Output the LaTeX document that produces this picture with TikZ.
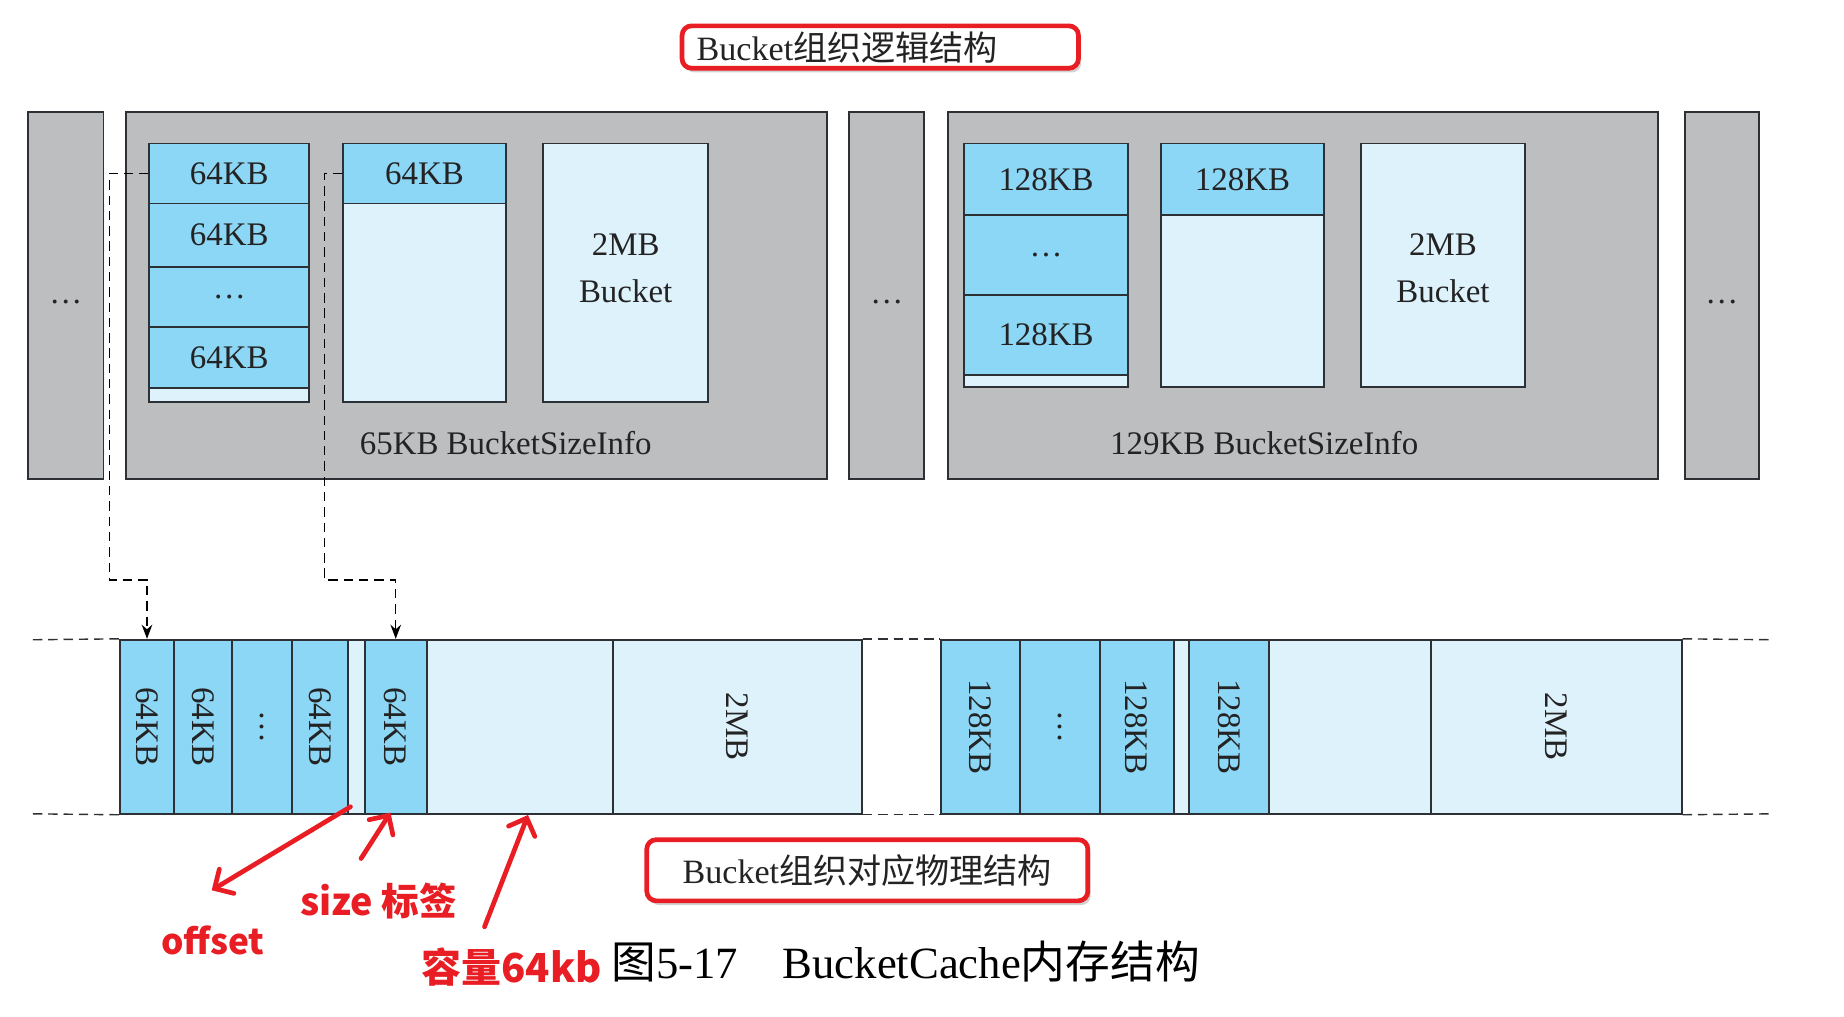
\documentclass[tikz,border=0pt]{standalone}
\usepackage{fontspec}
\setmainfont{Liberation Serif}
\newfontfamily\cjk{Noto Sans CJK SC}
\newfontfamily\redf{Noto Sans CJK SC}
\usetikzlibrary{arrows.meta,fit,shadows}
\definecolor{gbox}{RGB}{188,190,192}
\definecolor{bcell}{RGB}{140,214,246}
\definecolor{lcell}{RGB}{222,242,252}
\definecolor{edgec}{RGB}{45,48,52}
\definecolor{redc}{RGB}{232,30,36}
\definecolor{txt}{RGB}{35,35,35}
\tikzset{
  graybox/.style={draw=edgec, fill=gbox, line width=0.8pt, inner sep=0pt},
  bluecell/.style={draw=edgec, fill=bcell, line width=0.8pt, inner sep=0pt},
  lightcell/.style={draw=edgec, fill=lcell, line width=0.8pt, inner sep=0pt},
  lbl/.style={font=\fontsize{14}{20}\selectfont, text=txt, inner sep=0pt, align=center},
  vlbl/.style={lbl, rotate=-90},
  conn/.style={dash pattern=on 4pt off 2.5pt, line width=0.6pt, draw=black, -{Stealth[length=6pt,width=4.5pt]}},
  dline/.style={dash pattern=on 4pt off 2.5pt, line width=0.6pt, draw=edgec},
  redarrow/.style={draw=redc, line width=2pt, line cap=round, -{Straight Barb[length=6pt,width=12pt,line cap=round]}},
  redbox/.style={draw=redc, line width=2pt, rounded corners=4pt, fill=white, inner sep=0pt,
     drop shadow={opacity=0.35, shadow xshift=1.2pt, shadow yshift=-1.8pt}},
  redtxt/.style={text=redc, inner sep=0pt, font=\redf\bfseries},
}
\begin{document}
\begin{tikzpicture}[x=0.5pt, y=-0.5pt]
\useasboundingbox[fill=white] (0,0) rectangle (1568,864);

% ---------- top row ----------
\node[graybox, fit={(24,95)(88,407)}] (dL) {};
\node[lbl] (dLt) at (56,257) {…};
\node[graybox, fit={(107,95)(703,407)}] (B1) {};
\node[lbl] (B1l) at (430,377) {65KB BucketSizeInfo};
\node[graybox, fit={(722,95)(786,407)}] (dM) {};
\node[lbl] (dMt) at (754,257) {…};
\node[graybox, fit={(806,95)(1410,407)}] (B2) {};
\node[lbl] (B2l) at (1075,377) {129KB BucketSizeInfo};
\node[graybox, fit={(1433,95)(1496,407)}] (dR) {};
\node[lbl] (dRt) at (1464,257) {…};

% box 1 cells
\node[bluecell, fit={(127,122)(263,173)}] (a1) {};
\node[lbl] at (a1.center) {64KB};
\node[bluecell, fit={(127,173)(263,227)}] (a2) {};
\node[lbl] at (a2.center) {64KB};
\node[bluecell, fit={(127,227)(263,278)}] (a3) {};
\node[lbl] at (a3.center) {…};
\node[bluecell, fit={(127,278)(263,330)}] (a4) {};
\node[lbl] at (a4.center) {64KB};
\node[lightcell, fit={(127,330)(263,342)}] (a5) {};
\node[bluecell, fit={(292,122)(430,173)}] (bb1) {};
\node[lbl] at (bb1.center) {64KB};
\node[lightcell, fit={(292,173)(430,342)}] (bb2) {};
\node[lightcell, fit={(462,122)(602,342)}] (cc1) {};
\node[lbl] (cc1t) at (532,228) {2MB\\Bucket};

% box 2 cells
\node[bluecell, fit={(820,122)(959,183)}] (e1) {};
\node[lbl] at (e1.center) {128KB};
\node[bluecell, fit={(820,183)(959,251)}] (e2) {};
\node[lbl] at (e2.center) {…};
\node[bluecell, fit={(820,251)(959,319)}] (e3) {};
\node[lbl] at (e3.center) {128KB};
\node[lightcell, fit={(820,319)(959,329)}] (e4) {};
\node[bluecell, fit={(987,122)(1126,183)}] (f1) {};
\node[lbl] at (f1.center) {128KB};
\node[lightcell, fit={(987,183)(1126,329)}] (f2) {};
\node[lightcell, fit={(1157,122)(1297,329)}] (g1) {};
\node[lbl] (g1t) at (1227,228) {2MB\\Bucket};

% ---------- bottom row ----------
\node[bluecell, fit={(102,544)(148,692)}] (p1) {};
\node[vlbl] at (p1.center) {64KB};
\node[bluecell, fit={(148,544)(197,692)}] (p2) {};
\node[vlbl] at (p2.center) {64KB};
\node[bluecell, fit={(197,544)(248,692)}] (p3) {};
\node[vlbl] at (p3.center) {…};
\node[bluecell, fit={(248,544)(296,692)}] (p4) {};
\node[vlbl] at (p4.center) {64KB};
\node[lightcell, fit={(296,544)(310,692)}] (p5) {};
\node[bluecell, fit={(310,544)(363,692)}] (p6) {};
\node[vlbl] at (p6.center) {64KB};
\node[lightcell, fit={(363,544)(521,692)}] (p7) {};
\node[lightcell, fit={(521,544)(733,692)}] (p8) {};
\node[vlbl] at (p8.center) {2MB};

\node[bluecell, fit={(800,544)(867,692)}] (q1) {};
\node[vlbl] at (q1.center) {128KB};
\node[bluecell, fit={(867,544)(935,692)}] (q2) {};
\node[vlbl] at (q2.center) {…};
\node[bluecell, fit={(935,544)(998,692)}] (q3) {};
\node[vlbl] at (q3.center) {128KB};
\node[lightcell, fit={(998,544)(1011,692)}] (q4) {};
\node[bluecell, fit={(1011,544)(1079,692)}] (q5) {};
\node[vlbl] at (q5.center) {128KB};
\node[lightcell, fit={(1079,544)(1217,692)}] (q6) {};
\node[lightcell, fit={(1217,544)(1430,692)}] (q7) {};
\node[vlbl] at (q7.center) {2MB};

% dashed continuation lines
\coordinate (lt) at (28,544);
\coordinate (lb) at (28,692);
\coordinate (rt) at (1508,544);
\coordinate (rb) at (1508,692);
\draw[dline] (lt) -- (p1.north west);
\draw[dline] (lb) -- (p1.south west);
\draw[dline] (p8.north east) -- (q1.north west);
\draw[dline] (p8.south east) -- (q1.south west);
\draw[dline] (q7.north east) -- (rt);
\draw[dline] (q7.south east) -- (rb);

% dashed connectors
\coordinate (k1) at (93,493);
\coordinate (k2) at (276,493);
\draw[conn] (a1.west) -| (k1) -| (p1.north);
\draw[conn] (bb1.west) -| (k2) -| (p6.north);

% ---------- red boxes ----------
\node[redbox, fit={(580,22)(917,58)}] (T1) {};
\node[lbl, anchor=west, font=\fontsize{14.5}{17}\selectfont] (T1t) at (592,40) {Bucket{\cjk 组织逻辑结构}};
\node[redbox, fit={(550,714)(925,766)}] (T2) {};
\node[lbl, font=\fontsize{14.5}{17}\selectfont] (T2t) at (T2.center) {Bucket{\cjk 组织对应物理结构}};

% ---------- red annotations ----------
\coordinate (o1) at (298,686);
\coordinate (o2) at (180,757);
\coordinate (s1) at (307,730);
\coordinate (s2) at (332,691);
\coordinate (c1) at (412,788);
\coordinate (c2) at (449,693);
\draw[redarrow] (o1) -- (o2);
\draw[redarrow] (s1) -- (s2);
\draw[redarrow] (c1) -- (c2);
\node[redtxt, font=\redf\bfseries\fontsize{15}{18}\selectfont] (ot) at (181,800) {offset};
\node[redtxt, font=\redf\bfseries\fontsize{16}{19}\selectfont] (st) at (322,766) {size 标签};
\node[redtxt, font=\redf\bfseries\fontsize{17}{20}\selectfont] (ct) at (435,822) {容量64kb};

% caption
\node[inner sep=0pt, text=black, font=\fontsize{19}{22}\selectfont] (cap) at (770,818) {{\cjk 图}5-17\quad BucketCache{\cjk 内存结构}};
\end{tikzpicture}
\end{document}
